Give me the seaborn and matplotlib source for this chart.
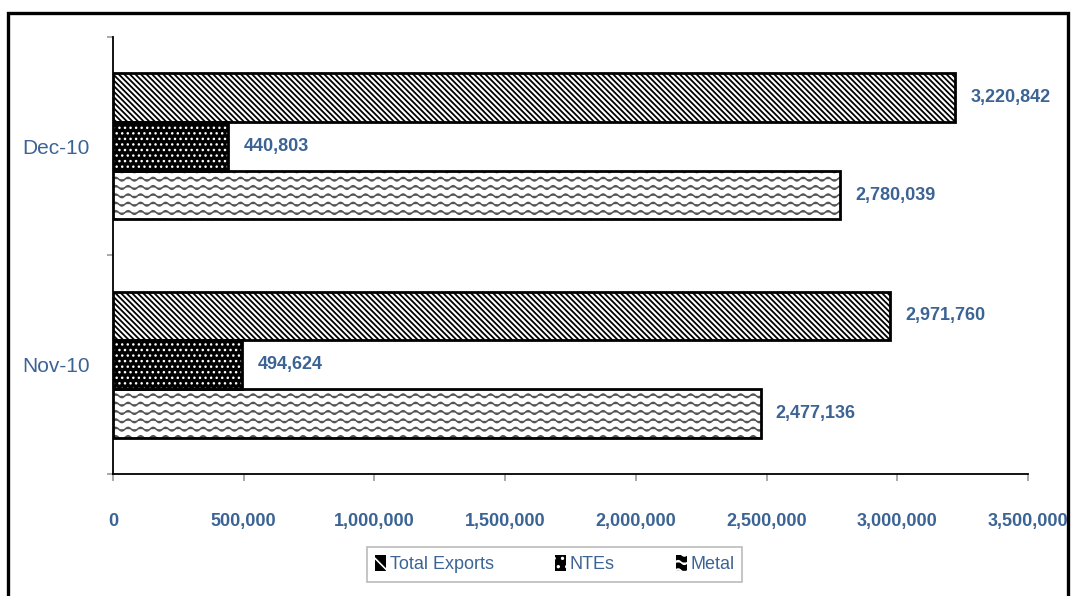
import warnings
import numpy as np
import pandas as pd
import matplotlib
matplotlib.use("Agg")
import matplotlib.pyplot as plt
import matplotlib.patches as mpatches
from matplotlib import hatch as mhatch
from matplotlib import font_manager
from matplotlib.path import Path
import seaborn as sns

warnings.filterwarnings("ignore")

# Data
months = ["Dec-10", "Nov-10"]
series = ["Total Exports", "NTEs", "Metal"]
total_exports = [3220842, 2971760]
ntes = [440803, 494624]
metal = [2780039, 2477136]
x_ticks = [0, 500000, 1000000, 1500000, 2000000, 2500000, 3000000, 3500000]

BLUE = "#3b6394"


# wavy hatch for the Metal bars (matplotlib has none built in)
class WaveHatch(mhatch.HatchPatternBase):
    n_seg = 96

    def __init__(self, hatch, density):
        self.num_lines = int(hatch.count("~") * density)
        self.num_vertices = self.num_lines * (self.n_seg + 1)

    def set_vertices_and_codes(self, vertices, codes):
        xs = np.linspace(0.0, 1.0, self.n_seg + 1)
        ys = (np.arange(self.num_lines) + 0.5) / self.num_lines
        n = self.n_seg + 1
        for i, y in enumerate(ys):
            k = i * n
            vertices[k:k + n, 0] = xs
            vertices[k:k + n, 1] = y + 0.018 * np.sin(2 * np.pi * 8 * xs)
            codes[k] = Path.MOVETO
            codes[k + 1:k + n] = Path.LINETO


mhatch._hatch_types.append(WaveHatch)

# style per series: face, hatch, hatch colour, hatch width
styles = {
    "Total Exports": dict(face="white", hatch="\\" * 6, hcolor="black", hlw=1.3),
    "NTEs": dict(face="black", hatch="...", hcolor="white", hlw=1.0),
    "Metal": dict(face="white", hatch="~~", hcolor="#555555", hlw=1.1),
}
legend_hatch = {"Total Exports": "\\\\", "NTEs": "..", "Metal": "~~"}

sns.set_style("white")
avail = {f.name for f in font_manager.fontManager.ttflist}
font = next((f for f in ["Liberation Sans Narrow", "Liberation Sans", "DejaVu Sans"] if f in avail), "DejaVu Sans")
plt.rcParams["font.family"] = [font, "DejaVu Sans"]
plt.rcParams["hatch.linewidth"] = 1.2

df = pd.DataFrame({
    "month": months * 3,
    "series": [s for s in series for _ in months],
    "value": total_exports + ntes + metal,
})

fig = plt.figure(figsize=(10.73, 5.96), dpi=100)
ax = fig.add_axes([0.1053, 0.2047, 0.9580 - 0.1053, 0.938 - 0.2047])

sns.barplot(data=df, x="value", y="month", hue="series", order=months,
            hue_order=series, orient="h", width=0.67, palette=["white"] * 3,
            legend=False, ax=ax)

for name, cont in zip(series, ax.containers):
    st = styles[name]
    for p in cont:
        p.set_facecolor(st["face"])
        p.set_edgecolor(st["hcolor"])
        p.set_hatch(st["hatch"])
        if hasattr(p, "set_hatch_linewidth"):
            p.set_hatch_linewidth(st["hlw"])
        p.set_linewidth(0)
        ax.add_patch(mpatches.Rectangle(p.get_xy(), p.get_width(), p.get_height(),
                                        fill=False, edgecolor="black", lw=2, zorder=3))
    ax.bar_label(cont, labels=[f"{v:,.0f}" for v in cont.datavalues], padding=11,
                 color=BLUE, fontsize=13, fontweight="bold")

ax.set_xlim(0, 3500000)
ax.set_ylim(1.5, -0.5)
ax.set_xticks(x_ticks)
ax.set_xticklabels([f"{v:,}" for v in x_ticks], color=BLUE, fontsize=13, fontweight="bold")
ax.tick_params(axis="x", bottom=True, length=5, width=1.2, color="#999999", pad=23)
ax.tick_params(axis="y", left=False, pad=13, labelsize=15, labelcolor=BLUE)
ax.set_yticks([-0.5, 0.5, 1.5], minor=True)
ax.tick_params(axis="y", which="minor", left=True, length=4, width=1.2, color="#999999")
ax.set_xlabel("")
ax.set_ylabel("")
for side in ["top", "right"]:
    ax.spines[side].set_visible(False)
for side in ["left", "bottom"]:
    ax.spines[side].set_color("black")
    ax.spines[side].set_linewidth(1.3)
ax.grid(False)

# legend keys: small black squares with white pattern
handles = [mpatches.Patch(facecolor="black", edgecolor="white",
                          hatch=legend_hatch[s], lw=0) for s in series]
leg = fig.legend(handles, series, loc="center", bbox_to_anchor=(0.517, 0.053), ncol=3,
                 frameon=True, fancybox=False, edgecolor="#aaaaaa", fontsize=13,
                 handlelength=0.6, handleheight=0.95, handletextpad=0.2,
                 columnspacing=3.4, borderpad=0.45, borderaxespad=0,
                 labelcolor=BLUE)
leg.get_frame().set_linewidth(1.2)

# outer frame of the chart area
fig.add_artist(mpatches.Rectangle((8 / 1073, -0.1), 1060 / 1073, (596 - 13) / 596 + 0.1,
                                  transform=fig.transFigure, fill=False,
                                  edgecolor="black", lw=2.4))

fig.savefig("out.png", dpi=100)
